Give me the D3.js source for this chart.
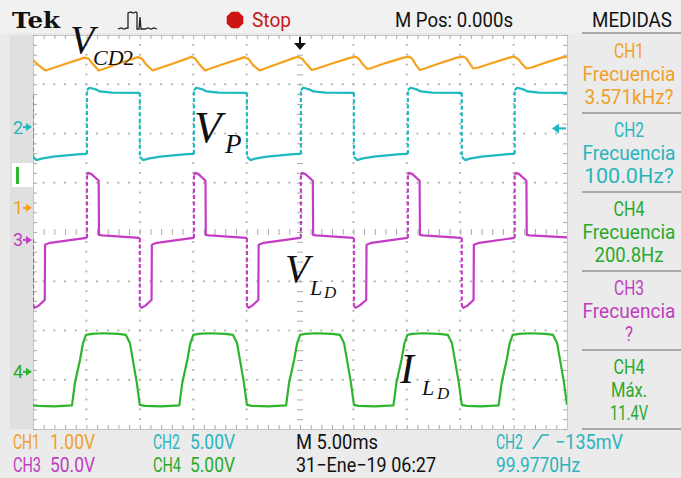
<!DOCTYPE html>
<html><head><meta charset="utf-8">
<script src="https://cdn.jsdelivr.net/npm/d3@7/dist/d3.min.js"></script>
<style>
html,body{margin:0;padding:0;background:#ebebeb;overflow:hidden}
svg{display:block}
</style></head><body>
<svg id="scope" width="681" height="478"></svg>
<script>
// ================= DATA =================
const timeDomain = [0, 50];          // ms across the screen (10 div x 5 ms)
const divDomain = [-4, 4];           // vertical divisions
const channels = ["CH1", "CH2", "CH3", "CH4"];
const voltsPerDiv = [1, 5, 50, 5];
const groundDiv = [0.49, 2.13, -0.16, -2.84];   // channel marker positions (div)

// CH1 (orange) [ms, V]
const ch1 = [[0,3.00],[0.5,2.90],[1.15,2.79],[1.6,2.82],[3.0,2.92],[4.4,3.02],
 [4.8,3.05],[5.2,3.03],[5.6,2.92],[6.15,2.79],[6.6,2.82],[8.0,2.93],[9.4,3.03],
 [9.8,3.06],[10.2,3.03],[10.6,2.91],[11.2,2.79],[11.6,2.82],[13.0,2.92],[14.4,3.03],
 [14.8,3.07],[15.2,3.03],[15.6,2.91],[16.1,2.79],[16.6,2.83],[18.0,2.93],[19.4,3.03],
 [19.8,3.06],[20.2,3.02],[20.6,2.90],[21.2,2.79],[21.6,2.82],[23.0,2.93],[24.4,3.04],
 [24.8,3.07],[25.2,3.03],[25.6,2.92],[26.1,2.80],[26.6,2.83],[28.0,2.93],[29.6,3.04],
 [30.2,3.07],[30.5,3.03],[30.9,2.91],[31.3,2.82],[31.7,2.84],[33.0,2.94],[34.7,3.05],
 [35.2,3.07],[35.5,3.03],[35.8,2.92],[36.2,2.80],[36.7,2.83],[38.0,2.93],[39.7,3.05],
 [40.3,3.07],[40.6,3.03],[40.9,2.93],[41.2,2.83],[41.7,2.85],[43.0,2.94],[44.6,3.05],
 [45.0,3.07],[45.4,3.03],[45.8,2.92],[46.2,2.83],[46.7,2.85],[48.0,2.95],[49.5,3.05],[50,3.07]];

// CH2 (cyan) [ms, V]
const ch2 = [[0,3.2],[0,-3.0],[0.3,-3.35],[0.8,-3.2],[1.9,-3.0],[4.4,-2.74],[5.05,-2.72],
 [5.05,3.75],[5.3,4.0],[5.95,3.8],[6.25,3.62],[7.4,3.5],[10.0,3.48],
 [10.0,-3.0],[10.3,-3.35],[10.8,-3.2],[11.9,-3.0],[14.4,-2.74],[15.07,-2.72],
 [15.07,3.75],[15.3,4.0],[15.95,3.8],[16.25,3.62],[17.4,3.5],[20.03,3.48],
 [20.03,-3.0],[20.35,-3.35],[20.8,-3.2],[21.9,-3.0],[24.4,-2.74],[25.08,-2.72],
 [25.08,3.75],[25.3,4.0],[25.95,3.8],[26.25,3.62],[27.4,3.5],[30.05,3.48],
 [30.05,-3.0],[30.35,-3.35],[30.8,-3.2],[31.9,-3.0],[34.4,-2.74],[35.1,-2.72],
 [35.1,3.75],[35.35,4.0],[36.0,3.8],[36.3,3.62],[37.4,3.5],[40.15,3.48],
 [40.15,-3.0],[40.45,-3.35],[40.9,-3.2],[42.0,-3.0],[44.5,-2.74],[45.1,-2.72],
 [45.1,3.75],[45.35,4.0],[46.0,3.8],[46.3,3.62],[47.4,3.5],[50,3.48]];

// CH3 (magenta) [ms, V]
const ch3 = [[0,1],[0,-66],[0.15,-69],[0.5,-67],[1.1,-61],[1.13,-5],[1.6,-3],[5.0,2],
 [5.05,2],[5.05,66],[5.15,68],[5.45,67],[6.15,60],[6.18,5],[6.5,4.5],[9.95,2],
 [10.0,2],[10.0,-67],[10.15,-69],[10.5,-67],[11.1,-61],[11.13,-5],[11.6,-3],[15.0,2],
 [15.07,2],[15.07,66],[15.17,68],[15.47,67],[16.15,60],[16.18,5],[16.5,4.5],[19.98,2],
 [20.03,2],[20.03,-67],[20.18,-69],[20.5,-67],[21.1,-61],[21.13,-5],[21.6,-3],[25.0,2],
 [25.08,2],[25.08,66],[25.18,68],[25.48,67],[26.2,60],[26.23,5],[26.5,4.5],[30.0,2],
 [30.05,2],[30.05,-67],[30.2,-69],[30.55,-67],[31.2,-61],[31.23,-5],[31.7,-3],[35.05,2],
 [35.1,2],[35.1,66],[35.2,68],[35.5,67],[36.2,60],[36.23,5],[36.5,4.5],[40.1,2],
 [40.15,2],[40.15,-67],[40.3,-69],[40.65,-67],[41.25,-61],[41.28,-5],[41.8,-3],[45.05,2],
 [45.1,2],[45.1,66],[45.2,68],[45.5,67],[46.2,60],[46.23,5],[46.5,4.5],[50,2.5]];

// CH4 (green) [ms, V]
const ch4 = [[0,-3.4],[0.5,-3.45],[2.0,-3.5],[3.65,-3.4],[3.93,-1.1],[4.4,1.2],[4.68,2.9],[4.96,3.75],
 [5.5,3.85],[6.5,3.92],[8.0,3.85],[8.7,3.75],[9.07,2.94],[9.35,1.22],[9.72,-1.12],[10.0,-3.35],
 [10.5,-3.45],[12.0,-3.5],[13.7,-3.4],[13.98,-1.1],[14.45,1.2],[14.73,2.9],[15.01,3.75],
 [15.5,3.85],[16.5,3.92],[18.0,3.85],[18.73,3.75],[19.1,2.94],[19.38,1.22],[19.75,-1.12],[20.03,-3.35],
 [20.5,-3.45],[22.0,-3.5],[23.7,-3.4],[23.98,-1.1],[24.45,1.2],[24.73,2.9],[25.01,3.75],
 [25.5,3.85],[26.5,3.92],[28.0,3.85],[28.75,3.75],[29.12,2.94],[29.4,1.22],[29.77,-1.12],[30.05,-3.35],
 [30.5,-3.45],[32.0,-3.5],[33.75,-3.4],[34.03,-1.1],[34.5,1.2],[34.78,2.9],[35.06,3.75],
 [35.5,3.85],[36.5,3.92],[38.0,3.85],[38.85,3.75],[39.22,2.94],[39.5,1.22],[39.87,-1.12],[40.15,-3.35],
 [40.6,-3.45],[42.0,-3.5],[43.6,-3.4],[43.88,-1.1],[44.35,1.2],[44.63,2.9],[44.91,3.75],
 [45.5,3.85],[46.5,3.92],[48.0,3.85],[48.7,3.75],[49.07,2.94],[49.35,1.22],[49.72,-1.12],[50,-3.35]];

const traces = [ch1, ch2, ch3, ch4];

// readouts
const headerLabels = ["Tek", "Stop", "M Pos: 0.000s", "MEDIDAS"];
const measTitles = ["CH1", "CH2", "CH4", "CH3", "CH4"];
const measTypes = ["Frecuencia", "Frecuencia", "Frecuencia", "Frecuencia", "Máx."];
const measValues = ["3.571kHz?", "100.0Hz?", "200.8Hz", "?", "11.4V"];
const measChannel = [0, 1, 3, 2, 3];
const scaleLabels = ["1.00V", "5.00V", "50.0V", "5.00V"];
const timebaseLabel = "M 5.00ms";
const dateLabel = "31−Ene−19 06:27";
const triggerLabel = ["CH2", "−135mV"];
const triggerFreqLabel = "99.9770Hz";
const markerLabels = ["1", "2", "3", "4"];

// ================= STYLE =================
const traceColor = ["#f5a11c", "#1fb9c0", "#c43cc4", "#2db52d"];
const textColor  = ["#f0a02a", "#2ab4be", "#c03ec0", "#2aa92a"];
const SANS = "Roboto, 'Liberation Sans', sans-serif";
const SERIF = "'Liberation Serif', 'DejaVu Serif', serif";

const svg = d3.select("#scope");
const W = 681, H = 478;
const x = d3.scaleLinear().domain(timeDomain).range([33, 567]);
const yDiv = d3.scaleLinear().domain(divDomain).range([429, 35]);

// backgrounds
svg.append("rect").attr("width", W).attr("height", H).attr("fill", "#ebebeb");
svg.append("rect").attr("x", 0).attr("y", 0).attr("width", W).attr("height", 33).attr("fill", "#f1f1f1");
svg.append("rect").attr("x", 10).attr("y", 35).attr("width", 23).attr("height", 394).attr("fill", "#e0e0e0");
svg.append("rect").attr("x", 12).attr("y", 163).attr("width", 21).attr("height", 24).attr("fill", "#ffffff");
svg.append("rect").attr("x", x(0)).attr("y", yDiv(4)).attr("width", x(50) - x(0)).attr("height", yDiv(-4) - yDiv(4)).attr("fill", "#ffffff");

// ---------- graticule ----------
const grid = svg.append("g");
const minorT = d3.range(0, 50.0001, 1);
const minorV = d3.range(-4, 4.0001, 0.2);
const majorT = d3.range(5, 50, 5).filter(t => t !== 25);
const majorV = d3.range(-3, 4, 1).filter(v => v !== 0);
const dotCol = "#a9a9a9";
majorT.forEach(t => minorV.slice(1, -1).forEach(v => {
  grid.append("rect").attr("x", x(t) - 0.9).attr("y", yDiv(v) - 0.9).attr("width", 1.8).attr("height", 1.8).attr("fill", dotCol);
}));
majorV.forEach(v => minorT.slice(1, -1).forEach(t => {
  grid.append("rect").attr("x", x(t) - 0.9).attr("y", yDiv(v) - 0.9).attr("width", 1.8).attr("height", 1.8).attr("fill", dotCol);
}));
function styleAxis(g, showDomain) {
  g.selectAll("text").remove();
  g.selectAll(".tick line").attr("stroke", "#ababab").attr("stroke-width", 1);
  g.select(".domain").attr("stroke", showDomain ? "#c4c4c4" : "none");
}
const fmt = () => "";
svg.append("g").attr("transform", `translate(0,${yDiv(4)})`).call(d3.axisBottom(x).tickValues(minorT).tickSize(4).tickSizeOuter(0).tickFormat(fmt)).call(g => styleAxis(g, true));
svg.append("g").attr("transform", `translate(0,${yDiv(-4)})`).call(d3.axisTop(x).tickValues(minorT).tickSize(4).tickSizeOuter(0).tickFormat(fmt)).call(g => styleAxis(g, true));
svg.append("g").attr("transform", `translate(${x(0)},0)`).call(d3.axisRight(yDiv).tickValues(minorV).tickSize(4).tickSizeOuter(0).tickFormat(fmt)).call(g => styleAxis(g, true));
svg.append("g").attr("transform", `translate(${x(50)},0)`).call(d3.axisLeft(yDiv).tickValues(minorV).tickSize(4).tickSizeOuter(0).tickFormat(fmt)).call(g => styleAxis(g, true));
// centre cross
svg.append("g").attr("transform", `translate(0,${yDiv(0)})`).call(d3.axisBottom(x).tickValues(minorT.slice(1,-1)).tickSize(3).tickSizeOuter(0).tickFormat(fmt)).call(g => styleAxis(g, false));
svg.append("g").attr("transform", `translate(0,${yDiv(0)})`).call(d3.axisTop(x).tickValues(minorT.slice(1,-1)).tickSize(3).tickSizeOuter(0).tickFormat(fmt)).call(g => styleAxis(g, false));
svg.append("g").attr("transform", `translate(${x(25)},0)`).call(d3.axisRight(yDiv).tickValues(minorV.slice(1,-1)).tickSize(3).tickSizeOuter(0).tickFormat(fmt)).call(g => styleAxis(g, false));
svg.append("g").attr("transform", `translate(${x(25)},0)`).call(d3.axisLeft(yDiv).tickValues(minorV.slice(1,-1)).tickSize(3).tickSizeOuter(0).tickFormat(fmt)).call(g => styleAxis(g, false));

// ---------- traces ----------
svg.append("clipPath").attr("id", "plotclip").append("rect")
  .attr("x", x(0)).attr("y", yDiv(4)).attr("width", x(50) - x(0)).attr("height", yDiv(-4) - yDiv(4));
const tg = svg.append("g").attr("clip-path", "url(#plotclip)");
function drawTrace(data, ci) {
  const yc = v => yDiv(groundDiv[ci] + v / voltsPerDiv[ci]);
  const line = d3.line().x(d => x(d[0])).y(d => yc(d[1]));
  const runs = [];
  let cur = null;
  for (let i = 0; i < data.length - 1; i++) {
    const dashed = data[i][0] === data[i + 1][0];
    if (!cur || cur.dashed !== dashed) { cur = { dashed, pts: [data[i]] }; runs.push(cur); }
    cur.pts.push(data[i + 1]);
  }
  runs.forEach(r => tg.append("path").attr("d", line(r.pts)).attr("fill", "none")
    .attr("stroke", traceColor[ci]).attr("stroke-width", 2.2)
    .attr("stroke-linejoin", "round")
    .attr("stroke-dasharray", r.dashed ? "4,2.5" : null));
}
traces.forEach((d, i) => drawTrace(d, i));

// ---------- text helper ----------
function txt(xp, yp, s, o = {}) {
  const t = svg.append("text").attr("x", xp).attr("y", yp).text(s)
    .attr("font-family", o.family || SANS).attr("font-size", o.size || 20)
    .attr("fill", o.fill || "#111").attr("text-anchor", o.anchor || "start");
  if (o.weight) t.attr("font-weight", o.weight);
  if (o.style) t.attr("font-style", o.style);
  if (o.len) t.attr("textLength", o.len).attr("lengthAdjust", "spacingAndGlyphs");
  return t;
}

// ---------- header ----------
txt(12, 28, headerLabels[0], { family: "'DejaVu Serif', serif", weight: "bold", size: 22, len: 48, fill: "#111" });
svg.append("path").attr("d", "M118,29 L121,28 L124,29 L127,28 L128,28 L128,13 L131,12 L133,13 L136,12 L137,13 L137,29 L139,29 L140,17 L141,29 L145,29 L148,28 L151,29 L154,28 L157,29")
  .attr("fill", "none").attr("stroke", "#222").attr("stroke-width", 1.3);
{
  const cx = 235, cy = 20, r = 9;
  const pts = d3.range(8).map(i => { const a = Math.PI / 8 + i * Math.PI / 4; return [cx + r * Math.cos(a), cy + r * Math.sin(a)]; });
  svg.append("path").attr("d", "M" + pts.join("L") + "Z").attr("fill", "#cc1414");
}
txt(252, 27, headerLabels[1], { size: 20, len: 39, fill: "#c41a1a" });
txt(395, 27, headerLabels[2], { size: 20, len: 118, fill: "#111" });
txt(592, 27, headerLabels[3], { size: 20, len: 80, fill: "#111" });

// trigger position arrow
svg.append("path").attr("d", "M300,37 L300,45").attr("stroke", "#111").attr("stroke-width", 2);
svg.append("path").attr("d", "M294,43 L306,43 L300,50 Z").attr("fill", "#111");

// ---------- measurement panel ----------
const sepY = [33, 113, 192, 271, 350, 429];
sepY.forEach(yy => svg.append("line").attr("x1", 582).attr("x2", 681).attr("y1", yy).attr("y2", yy).attr("stroke", "#a9a9a9").attr("stroke-width", 2));
const measLen = [[30, 93, 89], [30, 93, 90], [31, 93, 69], [30, 93, 8], [31, 36, 38]];
measTitles.forEach((m, i) => {
  const base = 58 + i * 79;
  const c = textColor[measChannel[i]];
  txt(629, base, m, { anchor: "middle", fill: c, size: 20, len: measLen[i][0] });
  txt(629, base + 22.5, measTypes[i], { anchor: "middle", fill: c, size: 20, len: measLen[i][1] });
  txt(629, base + 45.5, measValues[i], { anchor: "middle", fill: c, size: 20, len: measLen[i][2] });
});

// ---------- footer ----------
txt(13, 449, channels[0], { fill: textColor[0], len: 27 });
txt(50, 449, scaleLabels[0], { fill: textColor[0], len: 45 });
txt(153, 449, channels[1], { fill: textColor[1], len: 27 });
txt(190, 449, scaleLabels[1], { fill: textColor[1], len: 45 });
txt(296, 449, timebaseLabel, { fill: "#111", len: 82 });
txt(496, 449, triggerLabel[0], { fill: textColor[1], len: 27 });
svg.append("path").attr("d", "M533,449 L542,435 L549,435").attr("fill", "none").attr("stroke", textColor[1]).attr("stroke-width", 1.6);
txt(555, 449, triggerLabel[1], { fill: textColor[1], len: 68 });
txt(13, 472, channels[2], { fill: textColor[2], len: 28 });
txt(50, 472, scaleLabels[2], { fill: textColor[2], len: 45 });
txt(153, 472, channels[3], { fill: textColor[3], len: 28 });
txt(190, 472, scaleLabels[3], { fill: textColor[3], len: 45 });
txt(296, 472, dateLabel, { fill: "#111", len: 140 });
txt(496, 472, triggerFreqLabel, { fill: textColor[1], len: 84 });

// ---------- channel markers ----------
markerLabels.forEach((m, i) => {
  const yy = yDiv(groundDiv[i]);
  txt(13, yy + 6.5, m, { fill: textColor[i], size: 18 });
  svg.append("line").attr("x1", 23).attr("x2", 28).attr("y1", yy).attr("y2", yy).attr("stroke", traceColor[i]).attr("stroke-width", 2);
  svg.append("path").attr("d", `M26,${yy - 4} L32,${yy} L26,${yy + 4} Z`).attr("fill", traceColor[i]);
});
// ch4 trigger-source bar
svg.append("rect").attr("x", 16).attr("y", 167).attr("width", 3).attr("height", 17).attr("fill", traceColor[3]);
// CH2 trigger level arrow (right)
{
  const yy = yDiv(groundDiv[1] + (-0.135) / voltsPerDiv[1]);
  svg.append("line").attr("x1", 558).attr("x2", 566).attr("y1", yy).attr("y2", yy).attr("stroke", traceColor[1]).attr("stroke-width", 2.2);
  svg.append("path").attr("d", `M552,${yy} L559,${yy - 5} L559,${yy + 5} Z`).attr("fill", traceColor[1]);
}

// ---------- annotations (math labels) ----------
function mathLabel(parts) {
  parts.forEach(p => txt(p[0], p[1], p[2], { family: SERIF, size: p[3], style: p[4] ? "italic" : null, fill: "#111" }));
}
mathLabel([[70, 53, "V", 40, true], [93, 65, "CD", 22, true], [123, 65, "2", 22, false]]);
mathLabel([[194, 142, "V", 45, true], [225, 153, "P", 27, true]]);
mathLabel([[285, 282, "V", 40, true], [310, 295, "L", 22, true], [324, 298, "D", 17, true]]);
mathLabel([[400, 383, "I", 42, true], [422, 395, "L", 22, true], [437, 399, "D", 17, true]]);
</script>
</body></html>
